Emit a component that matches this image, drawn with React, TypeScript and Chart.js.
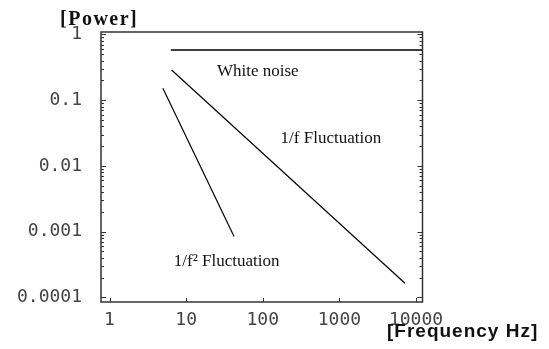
import { useEffect, useRef } from "react";
import { Chart, registerables } from "chart.js";

Chart.register(...registerables);

// ---- data ----
const xMin = 0.774;
const xMax = 12160;
const yMin = 8.5e-5;
const yMax = 1.09;

const xTickValues = [1, 10, 100, 1000, 10000];
const xTickLabels = ["1", "10", "100", "1000", "10000"];
const yTickValues = [1, 0.1, 0.01, 0.001, 0.0001];
const yTickLabels = ["1", "0.1", "0.01", "0.001", "0.0001"];
const yMinorMultipliers = [2, 3, 4, 5, 6, 7, 8, 9];

const whiteNoiseX = [6.3, 12160];
const whiteNoiseY = [0.58, 0.58];
const oneOverFX = [6.46, 7180];
const oneOverFY = [0.288, 1.64e-4];
const oneOverF2X = [4.97, 42.2];
const oneOverF2Y = [0.152, 8.4e-4];

const noteTexts = ["White noise", "1/f Fluctuation", "1/f\u00b2 Fluctuation"];
const noteX = [86, 774, 33.8];
const noteY = [0.269, 0.0258, 3.47e-4];

const yAxisTitle = "[Power]";
const xAxisTitle = "[Frequency Hz]";

const toPoints = (xs: number[], ys: number[]) => xs.map((x, i) => ({ x, y: ys[i] }));

const framePlugin = {
  id: "frame",
  afterDatasetsDraw(chart: any) {
    const { ctx, scales } = chart;
    const xs = scales.x;
    const ys = scales.y;
    ctx.save();
    ctx.fillStyle = "#111";
    ctx.font = '17px "Liberation Serif"';
    ctx.textAlign = "center";
    ctx.textBaseline = "middle";
    noteTexts.forEach((t, i) => {
      ctx.fillText(t, xs.getPixelForValue(noteX[i]), ys.getPixelForValue(noteY[i]));
    });
    ctx.restore();
  },
  afterDraw(chart: any) {
    const { ctx, chartArea, scales } = chart;
    const xs = scales.x;
    const ys = scales.y;
    const { left, right, top, bottom } = chartArea;
    ctx.save();
    ctx.strokeStyle = "#333";
    ctx.lineWidth = 1.5;
    ctx.strokeRect(left, top, right - left, bottom - top);
    ctx.lineWidth = 1;
    ctx.beginPath();
    xTickValues.forEach((v) => {
      const px = Math.round(xs.getPixelForValue(v)) + 0.5;
      ctx.moveTo(px, bottom);
      ctx.lineTo(px, bottom - 4);
    });
    yTickValues.forEach((v) => {
      const py = Math.round(ys.getPixelForValue(v)) + 0.5;
      if (py >= top - 1 && py <= bottom + 1) {
        ctx.moveTo(left, py);
        ctx.lineTo(left + 5, py);
        ctx.moveTo(right, py);
        ctx.lineTo(right - 5, py);
      }
      yMinorMultipliers.forEach((m) => {
        const mv = v * m;
        if (mv > yMax || mv < yMin) return;
        const pm = Math.round(ys.getPixelForValue(mv)) + 0.5;
        ctx.moveTo(left, pm);
        ctx.lineTo(left + 3, pm);
        ctx.moveTo(right, pm);
        ctx.lineTo(right - 3, pm);
      });
    });
    ctx.stroke();

    ctx.fillStyle = "#111";
    ctx.textBaseline = "alphabetic";
    ctx.textAlign = "left";
    ctx.font = 'bold 20px "Liberation Serif"';
    (ctx as any).letterSpacing = "1.5px";
    ctx.fillText(yAxisTitle, 60, 25);
    ctx.font = 'bold 19px "Liberation Sans"';
    (ctx as any).letterSpacing = "1px";
    ctx.fillText(xAxisTitle, 387, 337);
    ctx.restore();
  },
};

export default function App() {
  const ref = useRef<HTMLCanvasElement | null>(null);

  useEffect(() => {
    if (!ref.current) return;
    const lineStyle = {
      borderColor: "#000",
      backgroundColor: "#000",
      borderWidth: 1.2,
      pointRadius: 0,
      showLine: true,
      fill: false,
      tension: 0,
    };
    const chart = new Chart(ref.current, {
      type: "scatter",
      data: {
        datasets: [
          { label: "White noise", data: toPoints(whiteNoiseX, whiteNoiseY), ...lineStyle, borderWidth: 1.5 },
          { label: "1/f", data: toPoints(oneOverFX, oneOverFY), ...lineStyle },
          { label: "1/f2", data: toPoints(oneOverF2X, oneOverF2Y), ...lineStyle },
        ],
      },
      options: {
        animation: false,
        responsive: false,
        events: [],
        layout: { padding: { top: 32, right: 126.5, left: 0, bottom: 0 } },
        plugins: { legend: { display: false }, tooltip: { enabled: false }, title: { display: false } },
        scales: {
          x: {
            type: "logarithmic",
            min: xMin,
            max: xMax,
            grid: { display: false, drawTicks: false },
            border: { display: false },
            afterBuildTicks: (scale: any) => {
              scale.ticks = xTickValues.map((v) => ({ value: v }));
            },
            afterFit: (scale: any) => {
              scale.height = 47;
            },
            ticks: {
              autoSkip: false,
              maxRotation: 0,
              padding: 8,
              color: "#444",
              font: { family: '"DejaVu Sans Mono"', size: 18 },
              callback: (_v: any, i: number) => xTickLabels[i],
            },
          },
          y: {
            type: "logarithmic",
            min: yMin,
            max: yMax,
            grid: { display: false, drawTicks: false },
            border: { display: false },
            afterBuildTicks: (scale: any) => {
              scale.ticks = yTickValues.map((v) => ({ value: v }));
            },
            afterFit: (scale: any) => {
              scale.width = 101;
            },
            ticks: {
              autoSkip: false,
              padding: 19,
              color: "#444",
              font: { family: '"DejaVu Sans Mono"', size: 18 },
              callback: (_v: any, i: number) => yTickLabels[i],
            },
          },
        },
      },
      plugins: [framePlugin],
    } as any);
    return () => chart.destroy();
  }, []);

  return (
    <div style={{ position: "fixed", left: 0, top: 0, width: 549, height: 349, background: "#fff" }}>
      <canvas ref={ref} width={549} height={349} style={{ display: "block" }} />
    </div>
  );
}
